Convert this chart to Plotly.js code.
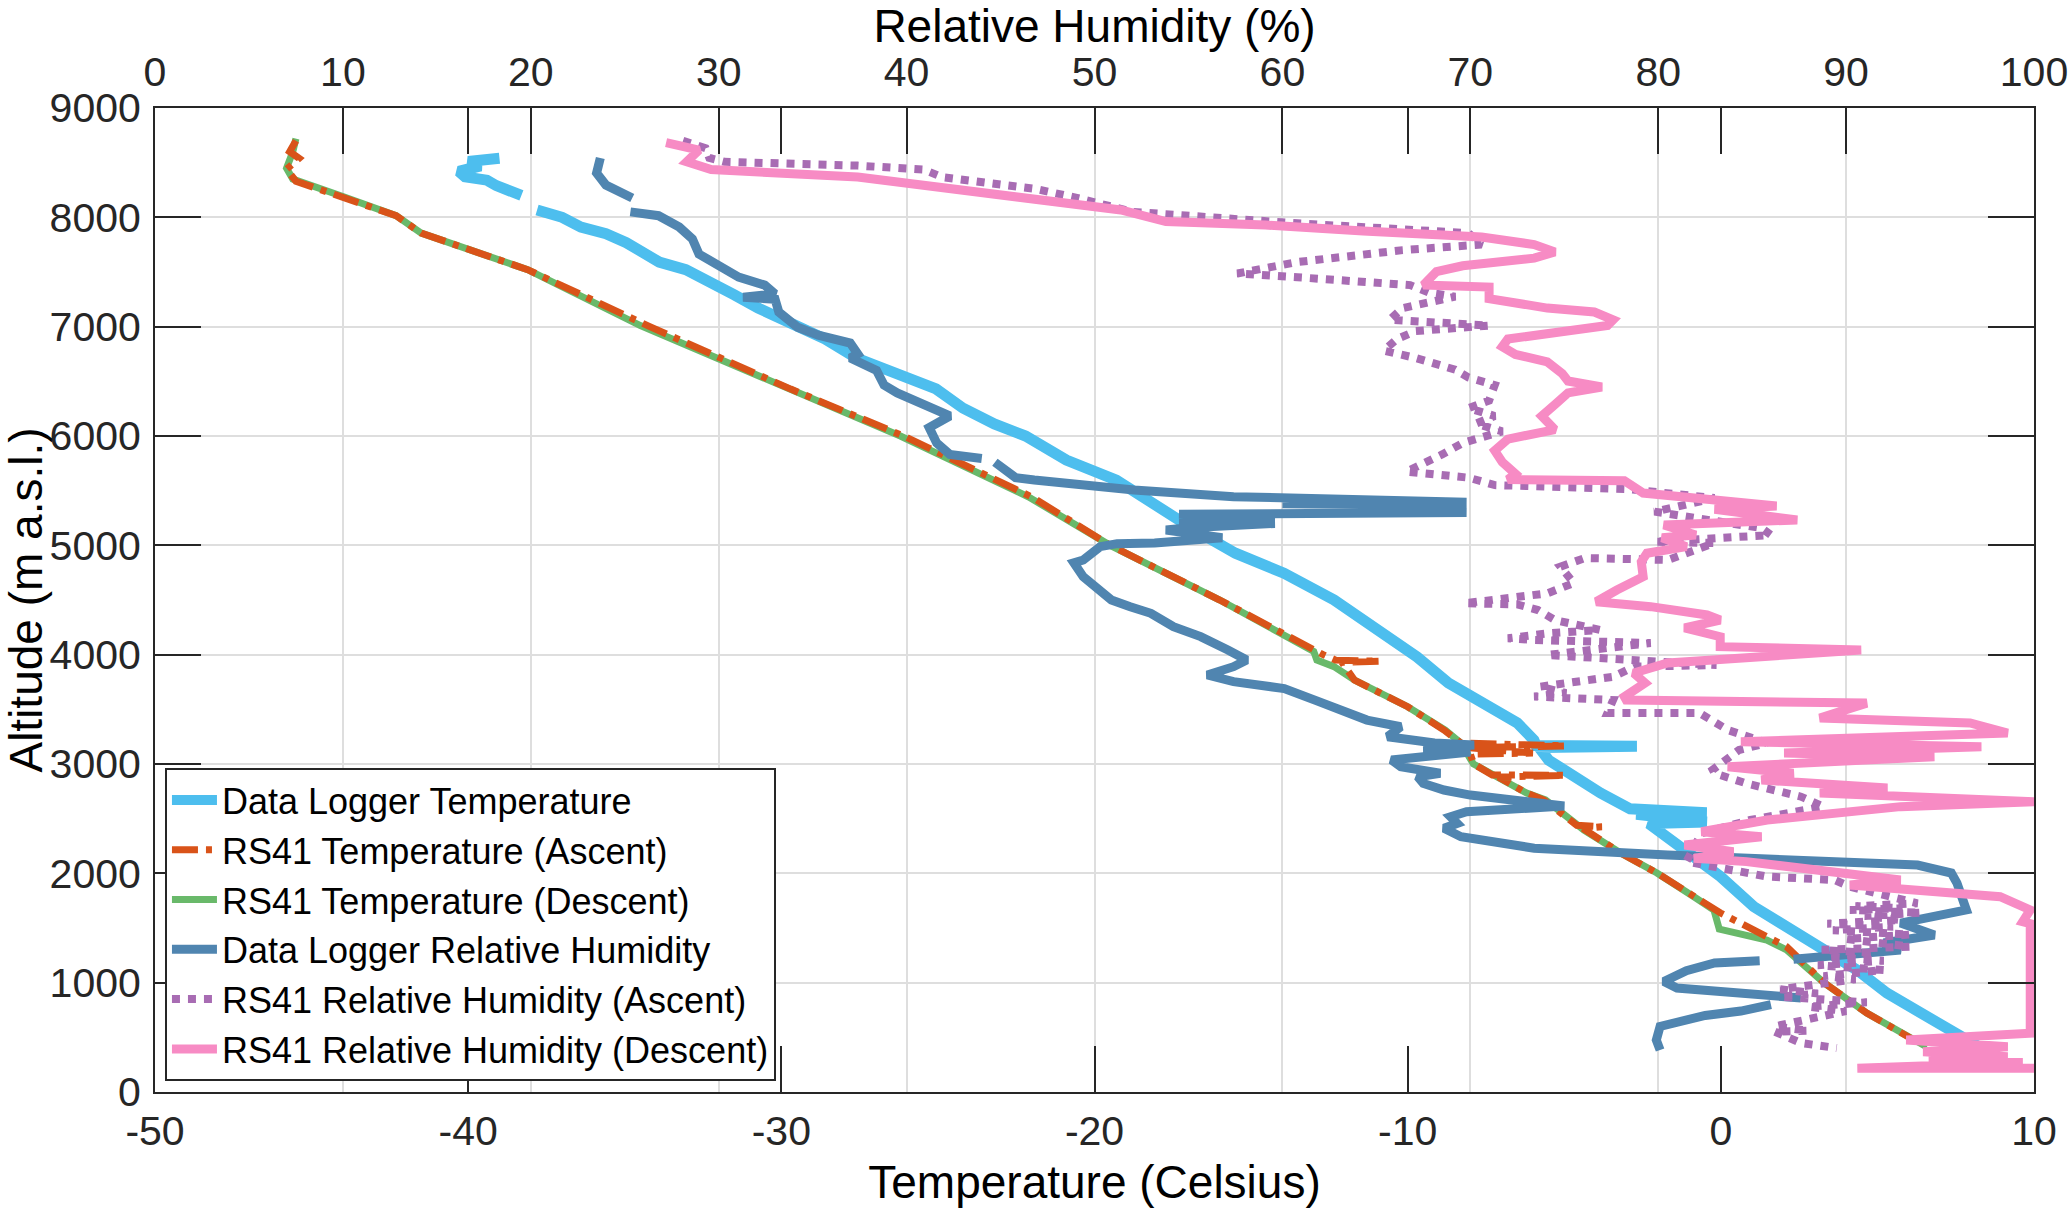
<!DOCTYPE html>
<html>
<head>
<meta charset="utf-8">
<script src="https://cdn.plot.ly/plotly-3.0.1.min.js"></script>
<style>html,body{margin:0;padding:0;background:#fff;}#chart{width:2068px;height:1208px;}</style>
</head>
<body>
<div id="chart"></div>
<script>
// ---------- Data (temperature in °C, humidity in %, altitude in m a.s.l.) ----------
const dlTempC = [-39.0,-40.0,-39.6,-40.3,-40.1,-39.4,-39.1,-38.7,-38.3,null,-37.8,-37.0,-36.4,-35.6,-34.95,-34.5,-33.9,-33.05,-32.2,-31.5,-30.74,-29.6,-28.6,-27.6,-26.3,-25.06,-24.2,-23.2,-22.2,-21.6,-20.9,-19.3,-18.0,-16.8,-15.5,-13.95,-12.35,-10.75,-9.7,-8.7,-7.7,-6.5,-5.97,-5.9,-2.68,-5.8,-5.5,-4.7,-3.84,-2.9,-0.45,-2.7,-0.45,-2.3,-1.72,-0.97,-0.01,1.05,2.1,3.29,4.35,5.3,6.37,7.33,8.0,8.2];
const dlTempAlt = [8540,8510,8470,8420,8370,8340,8290,8250,8200,null,8067,8000,7911,7850,7768,7690,7591,7521,7380,7290,7170,7010,6887,6713,6570,6430,6255,6110,6000,5900,5780,5597,5353,5140,4928,4745,4500,4198,3979,3741,3585,3375,3219,3170,3162,3150,3036,2884,2734,2590,2555,2540,2470,2455,2335,2186,1970,1695,1512,1299,1116,905,722,567,450,420];

const rsAscTempC = [-45.5,-45.7,-45.4,-45.8,-45.5,-44.0,-42.3,-41.5,-38.1,-34.2,-29.7,-26.1,-22.0,-19.5,-16.0,-12.7,-12.3,-10.9,-12.1,-11.7,-10.0,-8.84,-8.3,-4.97,-8.1,-6.0,-8.0,-7.89,-7.3,-4.97,-7.1,-6.2,-5.65,-4.6,-3.8,-4.4,-3.2,-2.04,-0.86,-0.01,2.1,3.29,4.66,6.16,6.4];
const rsAscTempAlt = [8700,8600,8540,8440,8330,8190,8015,7856,7521,7000,6429,6000,5442,5000,4500,4000,3950,3940,3930,3768,3524,3311,3192,3165,3150,3100,3090,3000,2900,2897,2880,2734,2671,2440,2427,2410,2186,2003,1786,1637,1329,1000,722,476,455];

const rsDescTempC = [-45.5,-45.6,-45.8,-45.6,-44.0,-42.3,-41.5,-38.1,-34.5,-29.7,-26.2,-22.1,-19.5,-16.0,-13.0,-12.9,-12.35,-11.7,-10.0,-8.8,-8.3,-7.9,-7.0,-6.2,-5.6,-4.37,-3.2,-2.04,-0.86,-0.22,-0.05,1.47,2.1,3.29,4.66,6.16,6.58];
const rsDescTempAlt = [8720,8600,8450,8350,8190,8015,7856,7521,7010,6429,6000,5442,5000,4500,4030,3951,3890,3768,3524,3311,3192,3000,2854,2734,2671,2396,2186,2003,1786,1665,1490,1390,1299,1000,722,476,412];

const dlRH = [23.7,23.5,24.0,25.4,null,25.3,26.8,27.9,28.6,28.95,30.0,31.06,32.45,33.0,31.3,33.0,33.2,34.2,35.3,37.0,37.4,37.0,38.4,38.8,39.5,40.9,42.3,41.2,41.6,42.3,44.0,null,44.7,45.8,46.8,48.5,52.1,57.4,65.0,69.8,60.0,69.8,62.0,69.8,54.5,59.6,54.5,59.6,55.0,53.8,56.8,53.2,51.2,50.3,49.4,48.9,49.4,50.0,50.9,51.9,53.0,54.2,55.65,57.1,58.1,57.4,56.0,57.4,60.1,61.8,63.6,64.5,66.3,65.6,68.1,70.2,67.5,70.0,65.8,66.3,68.4,67.2,67.5,68.6,70.0,73.4,75.0,69.8,68.95,69.3,68.6,69.5,71.6,73.4,80.5,87.6,93.8,95.6,95.9,96.4,94.7,92.9,94.7,92.0,92.9,89.4,87.2,null,85.4,83.0,81.5,80.3,81.0,83.1,85.8,87.6,null,86.0,84.4,82.5,81.0,80.1,79.9,80.1];
const dlRHAlt = [8543,8405,8295,8176,null,8050,8015,7911,7802,7664,7554,7454,7380,7300,7270,7250,7134,6995,6923,6850,6750,6713,6600,6466,6394,6288,6183,6077,5936,5831,5795,null,5760,5619,5597,5570,5506,5445,5420,5395,5380,5365,5340,5300,5285,5240,5220,5200,5160,5140,5070,5021,5015,4988,4866,4840,4713,4622,4500,4439,4378,4256,4165,4043,3951,3890,3814,3753,3690,3580,3466,3402,3341,3250,3192,3174,3130,3110,3037,2975,2915,2884,2822,2762,2716,2655,2615,2563,2517,2457,2413,2335,2274,2230,2167,2122,2076,2003,1911,1665,1604,1545,1436,1363,1299,1253,1215,null,1200,1180,1110,1010,951,925,890,860,null,800,740,700,650,600,476,384];

const rsAscRH = [28.1,29.3,29.5,30.3,37.4,40.9,41.9,46.8,49.0,52.05,60.8,69.9,70.6,66.4,60.8,57.6,60.8,66.8,67.8,69.2,66.4,65.7,71.0,67.1,66.1,65.4,67.1,69.2,69.9,71.3,71.0,69.9,71.3,70.3,71.7,69.6,68.5,67.1,66.6,69.9,71.3,78.4,80.1,83.0,79.8,85.5,86.0,79.8,83.0,80.5,76.1,74.8,75.5,74.1,69.7,72.5,73.6,74.5,76.9,74.3,72.0,73.4,79.6,74.1,83.1,78.7,77.6,73.7,75.1,73.4,77.6,77.3,82.2,83.7,85.8,84.3,82.9,83.0,84.7,87.6,88.8,84.9,82.3,81.5,85.8,89.4,90.2,93.8,90.5,93.0,90.2,94.0,91.0,92.9,89.0,92.5,89.3,93.4,90.0,93.4,88.7,91.5,89.0,92.0,88.5,92.0,88.8,90.5,89.0,86.5,88.5,86.5,91.1,88.0,90.0,87.6,86.2,88.0,86.2,87.6,89.5];
const rsAscRHAlt = [8701,8633,8543,8508,8473,8437,8368,8262,8180,8050,7945,7856,7751,7700,7591,7486,7452,7380,7311,7275,7170,7063,7010,6960,6887,6781,6713,6606,6535,6466,6324,6255,6183,6113,6042,5936,5831,5725,5674,5619,5551,5514,5478,5432,5308,5158,5094,5033,5021,4866,4884,4805,4655,4561,4470,4460,4408,4317,4226,4198,4150,4134,4107,3997,3905,3890,3798,3707,3649,3617,3585,3466,3466,3311,3192,3128,2948,2915,2822,2701,2610,2488,2366,2107,1970,1939,1878,1726,1700,1680,1665,1640,1610,1573,1540,1512,1480,1440,1400,1329,1300,1270,1238,1200,1160,1116,1060,1030,997,940,900,872,820,780,740,659,600,560,552,448,402];

const rsDescRH = [27.2,28.95,28.3,29.6,37.4,42.6,46.8,51.4,53.8,59.1,64.3,70.6,73.4,74.5,73.4,69.6,68.2,67.8,67.5,71.0,71.0,74.1,76.6,77.6,77.3,72.0,71.7,72.4,74.1,74.9,75.2,77.0,75.2,74.5,73.8,74.5,72.0,71.3,71.7,72.4,72.0,78.2,79.2,86.3,83.0,87.4,80.3,82.0,80.2,81.5,79.4,79.1,79.2,77.8,76.7,79.6,82.6,83.3,81.4,83.3,83.3,90.8,84.4,80.5,78.7,79.3,78.2,78.3,91.1,88.6,96.6,98.6,84.4,97.2,86.7,94.7,83.7,87.2,85.5,92.2,88.6,100,92.9,85.8,82.3,85.5,81.4,84.0,81.9,84.7,92.9,90.2,98.2,99.8,99.4,99.8,99.8,93.2,98.6,94.1,98.6,94.4,99.4,90.6,100];
const rsDescRHAlt = [8684,8615,8508,8437,8368,8262,8167,8067,7962,7930,7874,7820,7751,7683,7627,7557,7503,7417,7380,7362,7257,7170,7134,7063,7010,6887,6817,6746,6677,6570,6503,6448,6394,6288,6183,6059,5972,5866,5762,5654,5601,5590,5478,5360,5330,5232,5186,5094,5070,4988,4928,4850,4713,4591,4484,4439,4363,4317,4244,4164,4073,4043,3981,3924,3832,3741,3616,3585,3557,3420,3375,3283,3204,3158,3100,3067,2975,2915,2854,2780,2734,2655,2610,2488,2381,2335,2259,2198,2137,2107,1939,1893,1786,1665,1558,1540,537,476,414,369,323,293,270,217,217];

const tempTicks = [-50,-40,-30,-20,-10,0,10];
const tempTickLabels = ['-50','-40','-30','-20','-10','0','10'];
const rhTicks = [0,10,20,30,40,50,60,70,80,90,100];
const altTicks = [0,1000,2000,3000,4000,5000,6000,7000,8000,9000];

// ---------- Chart ----------
const FONT = '"Liberation Sans", Arial, Helvetica, sans-serif';
const INK = '#262626';

const traces = [
  {name:'Data Logger Temperature', x:dlTempC, y:dlTempAlt, xaxis:'x', yaxis:'y', mode:'lines', legendrank:1,
   line:{color:'#4dbeee', width:11}, connectgaps:false},
  {name:'RS41 Temperature (Descent)', x:rsDescTempC, y:rsDescTempAlt, xaxis:'x', yaxis:'y', mode:'lines', legendrank:3,
   line:{color:'#69b96a', width:7}},
  {name:'RS41 Temperature (Ascent)', x:rsAscTempC, y:rsAscTempAlt, xaxis:'x', yaxis:'y', mode:'lines', legendrank:2,
   line:{color:'#d95319', width:7, dash:'26px,8px,6px,8px'}},
  {name:'Data Logger Relative Humidity', x:dlRH, y:dlRHAlt, xaxis:'x2', yaxis:'y', mode:'lines', legendrank:4,
   line:{color:'#5085b0', width:9}, connectgaps:false},
  {name:'RS41 Relative Humidity (Ascent)', x:rsAscRH, y:rsAscRHAlt, xaxis:'x2', yaxis:'y', mode:'lines', legendrank:5,
   line:{color:'#a86cb3', width:8, dash:'8px,8px'}},
  {name:'RS41 Relative Humidity (Descent)', x:rsDescRH, y:rsDescRHAlt, xaxis:'x2', yaxis:'y', mode:'lines', legendrank:6,
   line:{color:'#f78bc4', width:9}}
];

const layout = {
  width:2068, height:1208,
  margin:{l:155, r:34, t:108, b:116, pad:0},
  paper_bgcolor:'#ffffff', plot_bgcolor:'#ffffff',
  font:{family:FONT, size:41, color:INK},
  showlegend:true,
  legend:{x:0.0053, y:0.0112, xanchor:'left', yanchor:'bottom',
          bgcolor:'#ffffff', bordercolor:INK, borderwidth:2,
          font:{family:FONT, size:36, color:'#000000'}, itemwidth:45, traceorder:'normal'},
  xaxis:{range:[-50,10], tickvals:tempTicks, ticktext:tempTickLabels,
         ticks:'inside', ticklen:46, tickwidth:2, tickcolor:INK,
         showline:true, linecolor:INK, linewidth:2, mirror:'ticks',
         showgrid:false, zeroline:false, automargin:false, ticklabelstandoff:2, ticklabeloverflow:'allow',
         tickfont:{family:FONT, size:41, color:INK},
         title:{text:'Temperature (Celsius)', font:{family:FONT, size:46, color:'#000000'}, standoff:18}},
  xaxis2:{range:[0,100], overlaying:'x', side:'top', anchor:'y', tickvals:rhTicks,
          ticks:'inside', ticklen:46, tickwidth:2, tickcolor:INK,
          showline:true, linecolor:INK, linewidth:2,
          showgrid:true, gridcolor:'#dedede', gridwidth:2, zeroline:false, automargin:false,
          ticklabelstandoff:4, ticklabeloverflow:'allow',
          tickfont:{family:FONT, size:41, color:INK},
          title:{text:'Relative Humidity (%)', font:{family:FONT, size:46, color:'#000000'}, standoff:20}},
  yaxis:{range:[0,9000], tickvals:altTicks,
         ticks:'inside', ticklen:46, tickwidth:2, tickcolor:INK,
         showline:true, linecolor:INK, linewidth:2, mirror:'ticks',
         showgrid:true, gridcolor:'#dedede', gridwidth:2, zeroline:false, automargin:false,
         ticklabelstandoff:4, ticklabeloverflow:'allow',
         tickfont:{family:FONT, size:41, color:INK},
         title:{text:'Altitude (m a.s.l.)', font:{family:FONT, size:46, color:'#000000'}, standoff:17}}
};

Plotly.newPlot('chart', traces, layout, {displayModeBar:false, staticPlot:true});
</script>
</body>
</html>
